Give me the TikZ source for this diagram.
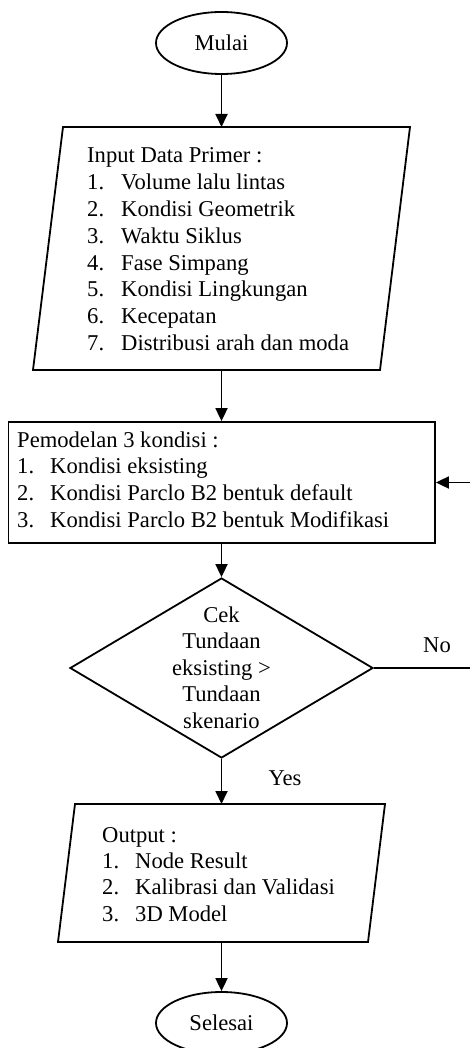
\documentclass[tikz,border=0pt]{standalone}
\usepackage{fontspec}
\setmainfont{Liberation Serif}
\usetikzlibrary{shapes.geometric,arrows.meta}
\newcommand\fsz{\fontsize{22.6}{26.8}\selectfont}
\begin{document}
\begin{tikzpicture}[x=1pt,y=-1pt,
  lw/.style={line width=1.8pt},
  conn/.style={line width=1.8pt,-{Triangle[length=13pt,width=12pt]}},
  term/.style={draw,ellipse,line width=1.8pt,minimum width=131pt,minimum height=62pt,inner sep=0pt,font=\fsz},
  txt/.style={anchor=base west,inner sep=0pt,font=\fsz},
  ctxt/.style={anchor=base,inner sep=0pt,font=\fsz},
  num/.style={anchor=base west,inner sep=0pt,font=\fsz}]
\useasboundingbox (0,0) rectangle (470,1048);

% start
\node[term] (start) at (221.5,43) {Mulai};

% input parallelogram
\coordinate (p1tl) at (63,127);
\coordinate (p1tr) at (410,127);
\coordinate (p1br) at (380,370);
\coordinate (p1bl) at (33,370);
\coordinate (p1in) at (221.5,127);
\coordinate (p1out) at (221.5,370);
\draw[lw,line join=miter] (p1tl) -- (p1tr) -- (p1br) -- (p1bl) -- cycle;
\node[txt] (p1h) at (87,163) {Input Data Primer :};
\foreach \t [count=\i] in {Volume lalu lintas,Kondisi Geometrik,Waktu Siklus,Fase Simpang,Kondisi Lingkungan,Kecepatan,Distribusi arah dan moda}{
  \node[num] (p1n\i) at (87,{163+26.8*\i}) {\i.};
  \node[txt] (p1t\i) at (121,{163+26.8*\i}) {\t};
}

% modelling rectangle
\node[draw,lw,minimum width=426.5pt,minimum height=121pt,inner sep=0pt] (model) at (221.75,482.5) {};
\node[txt] (mh) at (17,447) {Pemodelan 3 kondisi :};
\foreach \t [count=\i] in {Kondisi eksisting,Kondisi Parclo B2 bentuk default,Kondisi Parclo B2 bentuk Modifikasi}{
  \node[num] (mn\i) at (17,{447+26.7*\i}) {\i.};
  \node[txt] (mt\i) at (50,{447+26.7*\i}) {\t};
}

% decision
\node[draw,lw,diamond,aspect=1.683,minimum width=303pt,minimum height=180pt,inner sep=0pt] (dec) at (221.5,668) {};
\foreach \t [count=\i] in {Cek,Tundaan,eksisting >,Tundaan,skenario}{
  \node[ctxt] (dt\i) at (221.5,{622+26.5*(\i-1)}) {\t};
}
\node[ctxt] (no) at (437,652) {No};
\node[ctxt] (yes) at (285,785) {Yes};

% output parallelogram
\coordinate (p2tl) at (75,804);
\coordinate (p2tr) at (385,804);
\coordinate (p2br) at (368,942);
\coordinate (p2bl) at (58,942);
\coordinate (p2in) at (221.5,804);
\coordinate (p2out) at (221.5,942);
\draw[lw,line join=miter] (p2tl) -- (p2tr) -- (p2br) -- (p2bl) -- cycle;
\node[txt] (p2h) at (102,842) {Output :};
\foreach \t [count=\i] in {Node Result,Kalibrasi dan Validasi,3D Model}{
  \node[num] (p2n\i) at (102,{842+26.4*\i}) {\i.};
  \node[txt] (p2t\i) at (135,{842+26.4*\i}) {\t};
}

% end
\node[term] (stop) at (221.5,1023) {Selesai};

% connectors
\coordinate (loop) at (478,668);
\draw[conn] (start.south) -- (p1in);
\draw[conn] (p1out) -- (model.north -| p1out);
\draw[conn] (model.south -| dec.north) -- (dec.north);
\draw[conn] (dec.south) -- (p2in);
\draw[conn] (p2out) -- (stop.north);
\draw[conn] (dec.east) -- (loop) |- (model.east);
\end{tikzpicture}
\end{document}
